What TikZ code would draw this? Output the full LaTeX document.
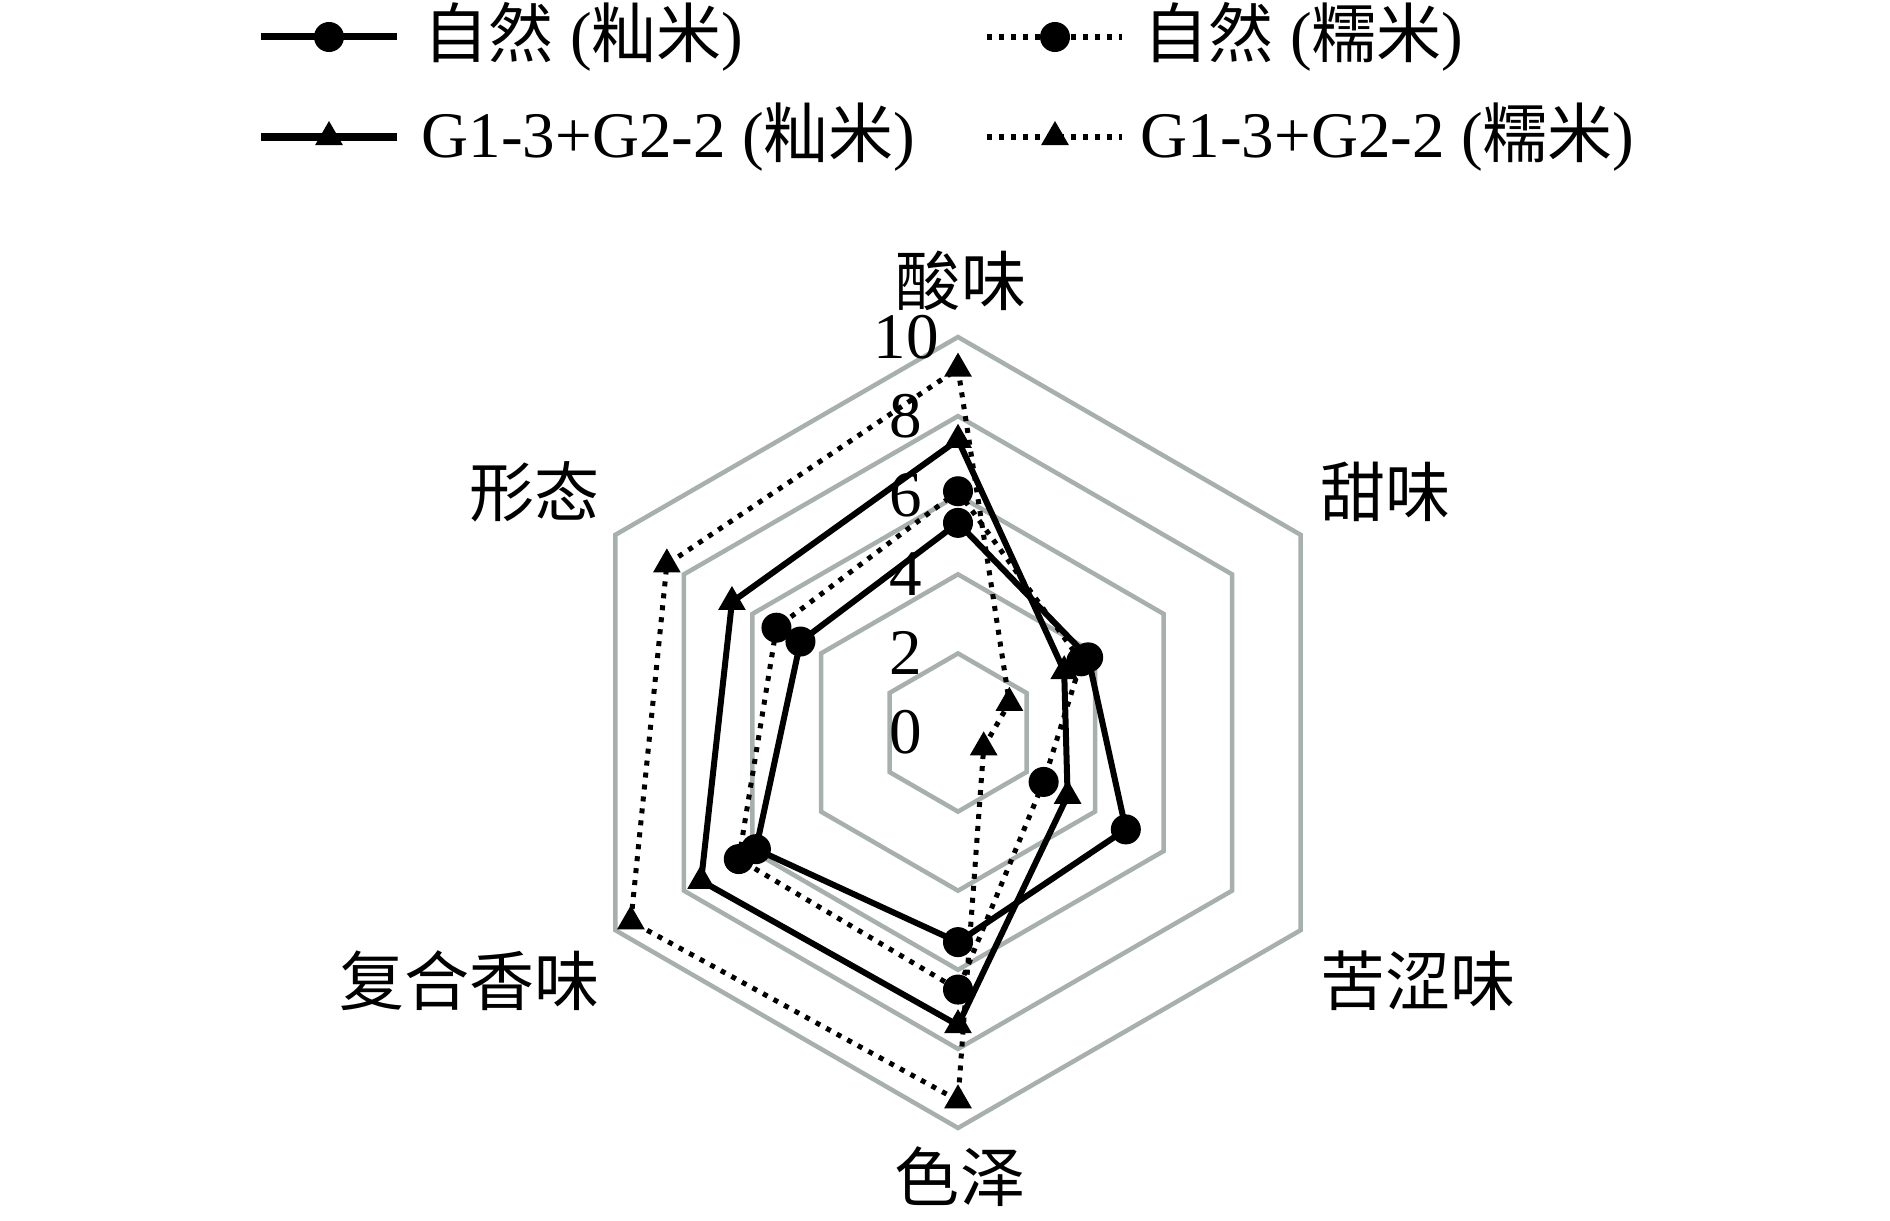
\documentclass[tikz,border=0pt]{standalone}
\usepackage{fontspec}
\setmainfont{Liberation Serif}
\newfontfamily\cjk{Noto Sans CJK SC}
\usetikzlibrary{shapes.geometric}
\definecolor{ringgray}{RGB}{168,176,173}
\newcommand{\zh}[1]{{\cjk #1}}
\def\U{39.55}

\begin{document}
\begin{tikzpicture}[x=0.01cm,y=0.01cm,font=\fontsize{18.5}{21}\selectfont]
    \tikzset{
      ring/.style={draw=ringgray,line width=0.045cm},
      solidline/.style={draw,line width=0.06cm},
      dotline/.style={draw,line width=0.05cm,dash pattern=on 0.05cm off 0.07cm},
      dot/.style={circle,fill,inner sep=0pt,minimum size=0.3cm},
      tri/.style={regular polygon,regular polygon sides=3,fill,inner sep=0pt,minimum size=0.32cm},
      lbl/.style={inner sep=0pt}
    }
    \useasboundingbox (0,0) rectangle (1890,1220);

    % legend
    \coordinate (la1) at (261,1183); \coordinate (lb1) at (397,1183);
    \coordinate (la2) at (261,1083); \coordinate (lb2) at (397,1083);
    \coordinate (la3) at (987,1183); \coordinate (lb3) at (1122,1183);
    \coordinate (la4) at (987,1083); \coordinate (lb4) at (1122,1083);
    \draw[solidline,line width=0.07cm] (la1) -- (lb1);
    \draw[solidline,line width=0.07cm] (la2) -- (lb2);
    \draw[dotline,line width=0.06cm] (la3) -- (lb3);
    \draw[dotline,line width=0.06cm] (la4) -- (lb4);
    \node[dot] (lm1) at (329,1183) {};
    \node[tri] (lm2) at (329,1083) {};
    \node[dot] (lm3) at (1055,1183) {};
    \node[tri] (lm4) at (1055,1083) {};
    \node[lbl,anchor=west] (lt1) at (423,1183) {\zh{自然} (\zh{籼米})};
    \node[lbl,anchor=west] (lt2) at (421,1083) {G1-3+G2-2 (\zh{籼米})};
    \node[lbl,anchor=west] (lt3) at (1143,1183) {\zh{自然} (\zh{糯米})};
    \node[lbl,anchor=west] (lt4) at (1140,1083) {G1-3+G2-2 (\zh{糯米})};

    % axis names
    \node[lbl] (suan) at (961,939) {\zh{酸味}};
    \node[lbl,anchor=west] (tian) at (1320,728) {\zh{甜味}};
    \node[lbl,anchor=west] (ku) at (1320,239) {\zh{苦涩味}};
    \node[lbl] (se) at (960,43) {\zh{色泽}};
    \node[lbl,anchor=east] (fu) at (600,239) {\zh{复合香味}};
    \node[lbl,anchor=east] (xing) at (600,728) {\zh{形态}};

    \begin{scope}[shift={(958,487.5)}]
      \foreach \k in {2,4,...,10}
        \draw[ring] (90:\k*\U) -- (30:\k*\U) -- (-30:\k*\U) -- (-90:\k*\U)
          -- (-150:\k*\U) -- (150:\k*\U) -- cycle;

      % data: suan, tian, ku, se, fu, xing
      \foreach \v [count=\i] in {5.3,3.8,4.9,5.3,5.9,4.6}
        \coordinate (zx\i) at ({150-60*\i}:\v*\U);
      \foreach \v [count=\i] in {6.1,3.6,2.5,6.5,6.4,5.3}
        \coordinate (zn\i) at ({150-60*\i}:\v*\U);
      \foreach \v [count=\i] in {7.4,3.1,3.2,7.4,7.5,6.6}
        \coordinate (gx\i) at ({150-60*\i}:\v*\U);
      \foreach \v [count=\i] in {9.2,1.5,0.75,9.3,9.55,8.5}
        \coordinate (gn\i) at ({150-60*\i}:\v*\U);

      \draw[dotline] (gn1) -- (gn2) -- (gn3) -- (gn4) -- (gn5) -- (gn6) -- cycle;
      \draw[dotline] (zn1) -- (zn2) -- (zn3) -- (zn4) -- (zn5) -- (zn6) -- cycle;
      \draw[solidline] (gx1) -- (gx2) -- (gx3) -- (gx4) -- (gx5) -- (gx6) -- cycle;
      \draw[solidline] (zx1) -- (zx2) -- (zx3) -- (zx4) -- (zx5) -- (zx6) -- cycle;

      \foreach \i in {1,...,6} {
        \node[tri] (mgn\i) at (gn\i) {};
        \node[tri] (mgx\i) at (gx\i) {};
        \node[dot] (mzn\i) at (zn\i) {};
        \node[dot] (mzx\i) at (zx\i) {};
      }
    \end{scope}

    % scale
    \foreach \k in {0,2,...,10}
      \node[lbl] (t\k) at (906,{487.5+\k*\U}) {\k};
  \end{tikzpicture}
\end{document}
